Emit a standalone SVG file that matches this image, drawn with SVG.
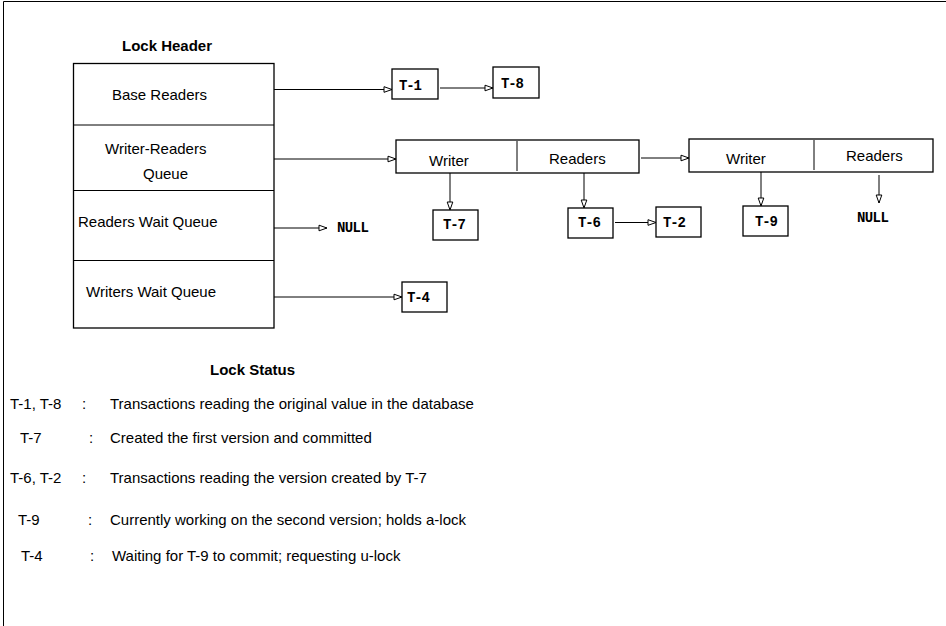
<svg xmlns="http://www.w3.org/2000/svg" width="946" height="626" viewBox="0 0 946 626">
<defs>
<style>
.ln{stroke:#000;stroke-width:1;fill:none}
.bx{stroke:#000;stroke-width:1.3;fill:#fff}
.s{font-family:"Liberation Sans",Arial,Helvetica,sans-serif;font-size:15px;fill:#000}
.b{font-family:"Liberation Sans",Arial,Helvetica,sans-serif;font-size:15px;font-weight:bold;fill:#000}
.m{font-family:"Liberation Mono","Courier New",monospace;font-size:14px;font-weight:bold;letter-spacing:-1.2px;fill:#000}
.n{font-family:"Liberation Mono","Courier New",monospace;font-size:14px;font-weight:bold;letter-spacing:-0.6px;fill:#000}
</style>
<marker id="ah" markerWidth="10" markerHeight="8" refX="9" refY="4" orient="auto" markerUnits="userSpaceOnUse">
<polygon points="1,1.2 9,4 1,6.8" fill="#fff" stroke="#000" stroke-width="1"/>
</marker>
</defs>
<rect width="946" height="626" fill="#fff"/>
<g id="frame">
<line x1="3.5" y1="1.5" x2="946" y2="1.5" class="ln" stroke-width="1.3"/>
<line x1="3.5" y1="1.5" x2="3.5" y2="626" class="ln" stroke-width="1.3"/>
</g>
<g id="lock-header">
<text x="122" y="51" class="b">Lock Header</text>
<rect x="73.5" y="63.5" width="200.5" height="264.5" class="bx"/>
<line x1="73.5" y1="125" x2="274" y2="125" class="ln"/>
<line x1="73.5" y1="190.5" x2="274" y2="190.5" class="ln"/>
<line x1="73.5" y1="260.5" x2="274" y2="260.5" class="ln"/>
<text x="112" y="100" class="s">Base Readers</text>
<text x="105" y="154" class="s">Writer-Readers</text>
<text x="143" y="179" class="s">Queue</text>
<text x="78" y="227" class="s">Readers Wait Queue</text>
<text x="86" y="297" class="s">Writers Wait Queue</text>
</g>
<g id="t1"><rect x="392" y="69" width="46" height="30" class="bx"/><text x="399" y="90" class="m">T-1</text></g>
<g id="t8"><rect x="493" y="67" width="46" height="31" class="bx"/><text x="501" y="88" class="m">T-8</text></g>
<g id="wr1">
<rect x="396" y="140" width="243" height="33" class="bx"/>
<line x1="517" y1="141" x2="517" y2="171" class="ln" stroke-width="1.3"/>
<text x="429" y="166" class="s">Writer</text>
<text x="549" y="164" class="s">Readers</text>
</g>
<g id="wr2">
<rect x="689" y="139" width="244" height="33" class="bx"/>
<line x1="814" y1="140" x2="814" y2="170" class="ln" stroke-width="1.3"/>
<text x="726" y="164" class="s">Writer</text>
<text x="846" y="161" class="s">Readers</text>
</g>
<g id="t7"><rect x="433" y="210" width="45" height="30" class="bx"/><text x="443" y="229" class="m">T-7</text></g>
<g id="t6"><rect x="568" y="208" width="45" height="30" class="bx"/><text x="578" y="227" class="m">T-6</text></g>
<g id="t2"><rect x="656" y="207" width="45" height="30" class="bx"/><text x="663" y="227" class="m">T-2</text></g>
<g id="t9"><rect x="743" y="206" width="45" height="30" class="bx"/><text x="755" y="226" class="m">T-9</text></g>
<g id="t4"><rect x="402" y="282" width="45" height="30" class="bx"/><text x="407" y="302" class="m">T-4</text></g>
<g id="null1"><text x="337" y="232" class="n">NULL</text></g>
<g id="null2"><text x="857" y="222" class="n">NULL</text></g>
<g id="connectors">
<line x1="274" y1="89.5" x2="392" y2="89.5" class="ln" marker-end="url(#ah)"/>
<line x1="440" y1="88" x2="493" y2="88" class="ln" marker-end="url(#ah)"/>
<line x1="274" y1="159" x2="396" y2="159" class="ln" marker-end="url(#ah)"/>
<line x1="274" y1="228" x2="327" y2="228" class="ln" marker-end="url(#ah)"/>
<line x1="274" y1="297" x2="402" y2="297" class="ln" marker-end="url(#ah)"/>
<line x1="450" y1="173" x2="450" y2="210" class="ln" marker-end="url(#ah)"/>
<line x1="584" y1="173" x2="584" y2="208" class="ln" marker-end="url(#ah)"/>
<line x1="615" y1="222.5" x2="656" y2="222.5" class="ln" marker-end="url(#ah)"/>
<line x1="641" y1="158" x2="689" y2="158" class="ln" marker-end="url(#ah)"/>
<line x1="761" y1="172" x2="761" y2="206" class="ln" marker-end="url(#ah)"/>
<line x1="879" y1="175" x2="879" y2="203" class="ln" marker-end="url(#ah)"/>
</g>
<g id="lock-status">
<text x="210" y="375" class="b">Lock Status</text>
<text x="10" y="409" class="s">T-1, T-8</text><text x="82" y="409" class="s">:</text><text x="110" y="409" class="s">Transactions reading the original value in the database</text>
<text x="20" y="443" class="s">T-7</text><text x="89" y="443" class="s">:</text><text x="110" y="443" class="s">Created the first version and committed</text>
<text x="10" y="483" class="s">T-6, T-2</text><text x="82" y="483" class="s">:</text><text x="110" y="483" class="s">Transactions reading the version created by T-7</text>
<text x="18" y="525" class="s">T-9</text><text x="88" y="525" class="s">:</text><text x="110" y="525" class="s">Currently working on the second version; holds a-lock</text>
<text x="21" y="561" class="s">T-4</text><text x="90" y="561" class="s">:</text><text x="112" y="561" class="s">Waiting for T-9 to commit; requesting u-lock</text>
</g>
</svg>
